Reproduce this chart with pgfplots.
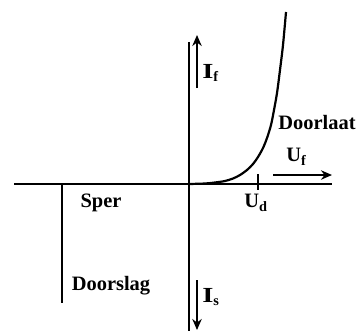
\documentclass[border=0pt]{standalone}
\usepackage{pgfplots}
\pgfplotsset{compat=1.18}
\usepackage{fontspec}
\setmainfont{Liberation Serif}
\usetikzlibrary{arrows.meta}
\tikzset{lbl/.style={font=\fontsize{13}{15}\selectfont\bfseries}}
\newcommand{\wideI}{\scalebox{1.4}[1.05]{I}}

\begin{document}
\begin{tikzpicture}
\begin{axis}[
  name=ax,
  scale only axis, width=8cm, height=7.397cm,
  xmin=0, xmax=358, ymin=0, ymax=331,
  axis lines=none, ticks=none, clip=false,
  every axis plot/.append style={black, no markers},
]
% axes
\addplot[line width=1.4pt] coordinates {(14,147) (332,147)};
\addplot[line width=1.4pt] coordinates {(189,289) (189,0)};
% breakdown
\addplot[line width=1.4pt] coordinates {(62,147) (62,28)};
% Ud tick
\addplot[line width=1.1pt] coordinates {(258,157) (258,141)};
% forward characteristic
\addplot[line width=1.4pt, smooth] coordinates {
  (189,147) (205,147.5) (215,148.5) (225,150) (233,152.5) (240,156)
  (247,161) (253,167) (258,174) (263,183) (267,193) (271,206)
  (274,221) (277,238) (280,261) (283,286) (286,319)};
% arrows
\addplot[line width=1.1pt, -{Stealth[length=7pt,width=6pt]}] coordinates {(197,243) (197,296)};
\addplot[line width=1.1pt, -{Stealth[length=7pt,width=6pt]}] coordinates {(273,156) (332,156)};
\addplot[line width=1.1pt, -{Stealth[length=7pt,width=6pt]}] coordinates {(197,51) (197,1)};
% labels
\node[lbl] at (axis cs:101,128) {Sper};
\node[lbl] at (axis cs:111,45) {Doorslag};
\node[lbl] at (axis cs:317,208) {Doorlaat};
\node[lbl, anchor=west, inner sep=0pt] at (axis cs:202,258) {\wideI\textsubscript{f}};
\node[lbl, anchor=west, inner sep=0pt] at (axis cs:286,174) {U\textsubscript{f}};
\node[lbl, anchor=west, inner sep=0pt] at (axis cs:244,128) {U\textsubscript{d}};
\node[lbl, anchor=west, inner sep=0pt] at (axis cs:202,34) {\wideI\textsubscript{s}};
\end{axis}
\pgfresetboundingbox
\path (ax.south west) rectangle (ax.north east);
\end{tikzpicture}
\end{document}
